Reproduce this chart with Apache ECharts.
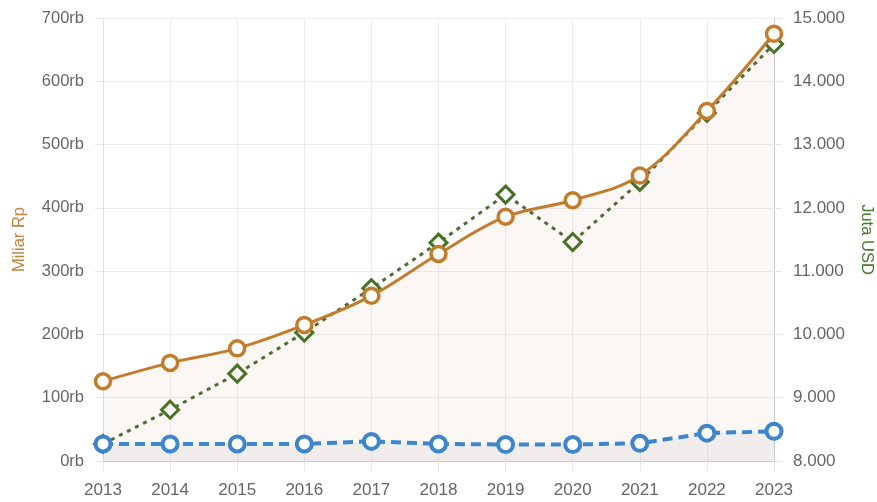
<!DOCTYPE html>
<html>
<head>
<meta charset="UTF-8">
<script src="https://cdn.jsdelivr.net/npm/echarts@6/dist/echarts.min.js"></script>
<style>
  html, body { margin: 0; padding: 0; background: #fff; }
  #main { width: 877px; height: 502px; }
</style>
</head>
<body>
<div id="main"></div>
<script>
// data
var years = ['2013', '2014', '2015', '2016', '2017', '2018', '2019', '2020', '2021', '2022', '2023'];
var miliarRp = [126, 155, 178, 215, 261, 327, 386, 412, 451, 553, 675];     // brown, left axis
var kecilRp = [27, 27, 27, 27, 31, 27, 26, 26, 28, 44, 47];                  // blue, left axis
var jutaUsd = [8270, 8810, 9380, 10030, 10730, 11450, 12210, 11460, 12410, 13500, 14590]; // green, right axis

var brown = '#c27c2c';
var green = '#437325';
var blue = '#3d85cc';
var labelFont = 'Liberation Sans, Arial, sans-serif';

var chart = echarts.init(document.getElementById('main'), null, { renderer: 'canvas' });

var option = {
  animation: false,
  grid: { left: 103, right: 103, top: 18, bottom: 41, containLabel: false, outerBoundsMode: 'none' },
  xAxis: {
    type: 'category',
    data: years,
    boundaryGap: false,
    axisLine: { lineStyle: { color: '#cccccc' } },
    axisTick: { show: true, length: 10, lineStyle: { color: '#e6e6e6' } },
    axisLabel: { color: '#666', fontSize: 17, fontFamily: labelFont, margin: 21 },
    splitLine: { show: true, lineStyle: { color: '#ececec' } }
  },
  yAxis: [
    {
      type: 'value',
      min: 0, max: 700, interval: 100,
      name: 'Miliar Rp',
      nameLocation: 'middle',
      nameGap: 75,
      nameTextStyle: { color: '#c4843c', fontSize: 16.5, fontFamily: labelFont },
      axisLine: { show: true, lineStyle: { color: '#e0e0e0' } },
      axisTick: { show: true, length: 8, lineStyle: { color: '#e6e6e6' } },
      axisLabel: { color: '#666', fontSize: 16.5, fontFamily: labelFont, margin: 19,
        formatter: function (v) { return v + 'rb'; } },
      splitLine: { lineStyle: { color: '#ececec' } }
    },
    {
      type: 'value',
      min: 8000, max: 15000, interval: 1000,
      name: 'Juta USD',
      nameLocation: 'middle',
      nameGap: 84,
      nameRotate: -90,
      nameTextStyle: { color: '#4a7a2c', fontSize: 16.5, fontFamily: labelFont },
      axisLine: { show: true, lineStyle: { color: '#cccccc' } },
      axisTick: { show: true, length: 8, lineStyle: { color: '#e6e6e6' } },
      axisLabel: { color: '#666', fontSize: 17, fontFamily: labelFont, margin: 19,
        formatter: function (v) { return Math.floor(v / 1000) + '.' + String(v % 1000).padStart(3, '0'); } },
      splitLine: { show: false }
    }
  ],
  series: [
    {
      name: 'Miliar Rp',
      type: 'line',
      yAxisIndex: 0,
      data: miliarRp,
      smooth: 0.35,
      symbol: 'circle',
      symbolSize: 15,
      itemStyle: { color: '#fff', borderColor: brown, borderWidth: 3.5 },
      lineStyle: { color: brown, width: 3 },
      areaStyle: { color: 'rgba(190,110,70,0.08)' },
      z: 4
    },
    {
      name: 'Kecil',
      type: 'line',
      yAxisIndex: 0,
      data: kecilRp,
      symbol: 'circle',
      symbolSize: 15,
      itemStyle: { color: '#fff', borderColor: blue, borderWidth: 4 },
      lineStyle: { color: blue, width: 4, type: [10, 6] },
      areaStyle: { color: 'rgba(120,120,140,0.10)' },
      z: 5
    },
    {
      name: 'Juta USD',
      type: 'line',
      yAxisIndex: 1,
      data: jutaUsd,
      symbol: 'diamond',
      symbolSize: 17,
      itemStyle: { color: '#fff', borderColor: green, borderWidth: 3 },
      lineStyle: { color: '#4f6b36', width: 3, type: [4, 5] },
      z: 3
    }
  ]
};

chart.setOption(option);
</script>
</body>
</html>
